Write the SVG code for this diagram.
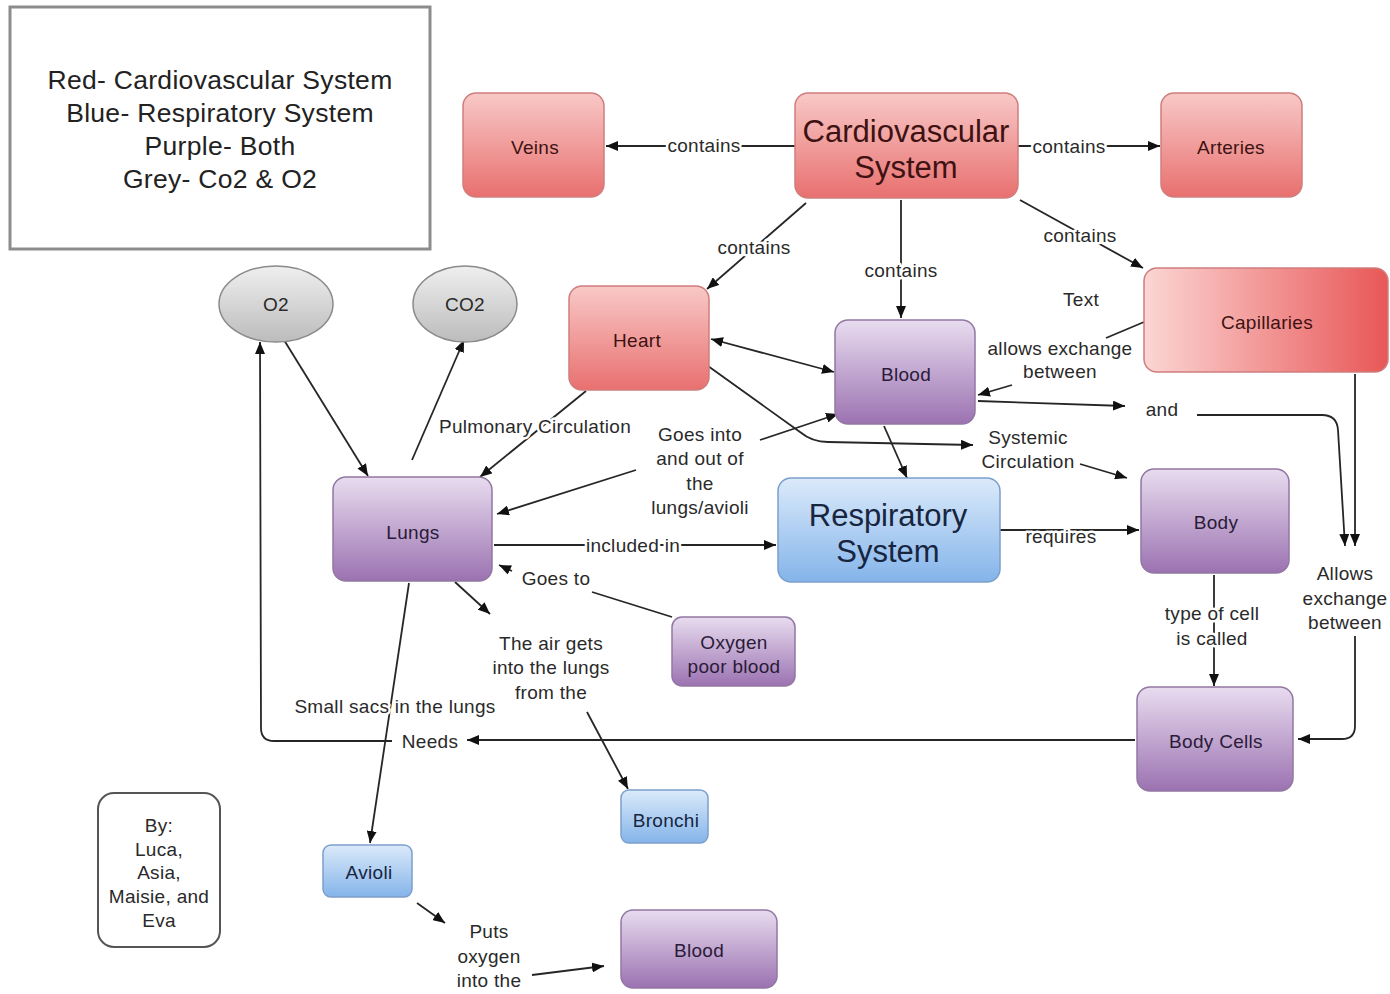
<svg xmlns="http://www.w3.org/2000/svg" width="1390" height="994" viewBox="0 0 1390 994">
<style>
text{font-family:"Liberation Sans",Arial,sans-serif;text-anchor:middle;dominant-baseline:central}
.lbl{font-size:19px;fill:#2a2a2a;letter-spacing:0.3px;stroke:#fff;stroke-width:5px;paint-order:stroke;stroke-linejoin:round}
.nt{font-size:19px;letter-spacing:0.3px}
.big{font-size:31px}
.leg{font-size:26.5px;fill:#222;letter-spacing:0.3px}
.red{fill:url(#gRed);stroke:#cf7d7d;stroke-width:1.5}
.pur{fill:url(#gPur);stroke:#9277a3;stroke-width:1.5}
.blu{fill:url(#gBlu);stroke:#7d9fcc;stroke-width:1.5}
.gry{fill:url(#gGry);stroke:#8a8a8a;stroke-width:1.5}
.tr{fill:#3e1212}
.tp{fill:#2a1b38}
.tb{fill:#17253f}
.c{fill:none;stroke:#262626;stroke-width:1.8}
.ar{marker-end:url(#ah)}
</style>
<defs>
<linearGradient id="gRed" x1="0" y1="0" x2="0" y2="1"><stop offset="0" stop-color="#f8c9c7"/><stop offset="1" stop-color="#e8706f"/></linearGradient>
<linearGradient id="gCap" x1="0" y1="0" x2="1" y2="0"><stop offset="0" stop-color="#fbd6d4"/><stop offset="1" stop-color="#e85757"/></linearGradient>
<linearGradient id="gPur" x1="0" y1="0" x2="0" y2="1"><stop offset="0" stop-color="#e8dcef"/><stop offset="1" stop-color="#9b72b1"/></linearGradient>
<linearGradient id="gBlu" x1="0" y1="0" x2="0" y2="1"><stop offset="0" stop-color="#dbeafa"/><stop offset="1" stop-color="#84b4ea"/></linearGradient>
<linearGradient id="gGry" x1="0" y1="0" x2="0" y2="1"><stop offset="0" stop-color="#efefef"/><stop offset="1" stop-color="#bcbcbc"/></linearGradient>
<marker id="ah" viewBox="0 0 12 10" refX="12" refY="5" markerWidth="12" markerHeight="10" markerUnits="userSpaceOnUse" orient="auto-start-reverse"><path d="M0,0 L12,5 L0,10 z" fill="#111"/></marker>
</defs>
<rect width="1390" height="994" fill="#fff"/>

<g id="legend">
<rect x="10" y="7" width="420" height="242" fill="#fff" stroke="#8c8c8c" stroke-width="3"/>
<text class="leg" x="220" y="80">Red- Cardiovascular System</text>
<text class="leg" x="220" y="113">Blue- Respiratory System</text>
<text class="leg" x="220" y="146">Purple- Both</text>
<text class="leg" x="220" y="179">Grey- Co2 &amp; O2</text>
</g>

<g id="connectors">
<path class="c ar" d="M795,146 L606,146"/>
<path class="c ar" d="M1018,146 L1160,146"/>
<path class="c ar" d="M806,203 L707,289"/>
<path class="c ar" d="M901,200 L901,318"/>
<path class="c ar" d="M1020,200 L1143,268"/>
<path class="c" d="M1144,322 L1106,338"/>
<path class="c ar" d="M1012,385 L978,395"/>
<path class="c ar" d="M978,401 L1125,406"/>
<path class="c ar" d="M1197,415 L1322,415 Q1337,415 1338,430 L1345,546"/>
<path class="c ar" d="M1355,374 L1355,546"/>
<path class="c ar" d="M1355,636 L1355,726 Q1355,739 1342,739 L1298,739"/>
<path class="c ar" marker-start="url(#ah)" d="M711,339 L834,372"/>
<path class="c ar" d="M708,366 L800,432 Q812,442 828,442 L973,445"/>
<path class="c ar" d="M1080,464 L1127,478"/>
<path class="c ar" d="M586,391 L480,477"/>
<path class="c ar" d="M884,426 L907,478"/>
<path class="c ar" d="M760,440 L838,414"/>
<path class="c ar" d="M636,470 L497,514"/>
<path class="c ar" d="M494,545 L776,545"/>
<path class="c" d="M672,617 L592,592"/>
<path class="c ar" d="M512,571 L499,565"/>
<path class="c ar" d="M455,582 L490,614"/>
<path class="c ar" d="M587,712 L628,789"/>
<path class="c ar" d="M409,583 L370,843"/>
<path class="c ar" d="M417,903 L445,923"/>
<path class="c ar" d="M532,975 L604,966"/>
<path class="c ar" d="M1214,575 L1214,686"/>
<path class="c ar" d="M1135,740 L467,740"/>
<path class="c ar" d="M392,741 L274,741 Q261,741 261,728 L260,342"/>
<path class="c ar" d="M284,340 L368,476"/>
<path class="c ar" d="M412,460 L464,340"/>
<path class="c ar" d="M1000,530 L1139,530"/>
</g>

<g id="labels">
<text class="lbl" x="704" y="145">contains</text>
<text class="lbl" x="1069" y="146">contains</text>
<text class="lbl" x="754" y="247">contains</text>
<text class="lbl" x="901" y="270">contains</text>
<text class="lbl" x="1080" y="235">contains</text>
<text class="lbl" x="1081" y="299">Text</text>
<text class="lbl" x="1060" y="348">allows exchange</text>
<text class="lbl" x="1060" y="371">between</text>
<text class="lbl" x="1162" y="409">and</text>
<text class="lbl" x="1345" y="573">Allows</text>
<text class="lbl" x="1345" y="598">exchange</text>
<text class="lbl" x="1345" y="622">between</text>
<text class="lbl" x="1028" y="437">Systemic</text>
<text class="lbl" x="1028" y="461">Circulation</text>
<text class="lbl" x="535" y="426">Pulmonary Circulation</text>
<text class="lbl" x="700" y="434">Goes into</text>
<text class="lbl" x="700" y="458">and out of</text>
<text class="lbl" x="700" y="483">the</text>
<text class="lbl" x="700" y="507">lungs/avioli</text>
<text class="lbl" x="633" y="545">included in</text>
<text class="lbl" x="556" y="578">Goes to</text>
<text class="lbl" x="551" y="643">The air gets</text>
<text class="lbl" x="551" y="667">into the lungs</text>
<text class="lbl" x="551" y="692">from the</text>
<text class="lbl" x="395" y="706">Small sacs in the lungs</text>
<text class="lbl" x="430" y="741">Needs</text>
<text class="lbl" x="489" y="931">Puts</text>
<text class="lbl" x="489" y="956">oxygen</text>
<text class="lbl" x="489" y="980">into the</text>
<text class="lbl" x="1212" y="613">type of cell</text>
<text class="lbl" x="1212" y="638">is called</text>
<text class="lbl" x="1061" y="536">requires</text>
</g>

<g id="veins"><rect class="red" x="463" y="93" width="141" height="104" rx="13"/><text class="nt tr" x="535" y="147">Veins</text></g>
<g id="cardiovascular"><rect class="red" x="795" y="93" width="223" height="105" rx="13"/><text class="big tr" x="906" y="131">Cardiovascular</text><text class="big tr" x="906" y="167">System</text></g>
<g id="arteries"><rect class="red" x="1161" y="93" width="141" height="104" rx="13"/><text class="nt tr" x="1231" y="147">Arteries</text></g>
<g id="capillaries"><rect x="1144" y="268" width="244" height="104" rx="13" fill="url(#gCap)" stroke="#cf7d7d" stroke-width="1.5"/><text class="nt tr" x="1267" y="322">Capillaries</text></g>
<g id="heart"><rect class="red" x="569" y="286" width="140" height="104" rx="13"/><text class="nt tr" x="637" y="340">Heart</text></g>
<g id="blood-top"><rect class="pur" x="835" y="320" width="140" height="104" rx="13"/><text class="nt tp" x="906" y="374">Blood</text></g>
<g id="o2"><ellipse class="gry" cx="276" cy="304" rx="57" ry="38"/><text class="nt" fill="#2a2a2a" x="276" y="304">O2</text></g>
<g id="co2"><ellipse class="gry" cx="465" cy="304" rx="52" ry="38"/><text class="nt" fill="#2a2a2a" x="465" y="304">CO2</text></g>
<g id="lungs"><rect class="pur" x="333" y="477" width="159" height="104" rx="13"/><text class="nt tp" x="413" y="532">Lungs</text></g>
<g id="respiratory"><rect class="blu" x="778" y="478" width="222" height="104" rx="13"/><text class="big tb" x="888" y="515">Respiratory</text><text class="big tb" x="888" y="551">System</text></g>
<g id="body"><rect class="pur" x="1141" y="469" width="148" height="104" rx="13"/><text class="nt tp" x="1216" y="522">Body</text></g>
<g id="body-cells"><rect class="pur" x="1137" y="687" width="156" height="104" rx="13"/><text class="nt tp" x="1216" y="741">Body Cells</text></g>
<g id="oxygen-poor-blood"><rect class="pur" x="672" y="617" width="123" height="69" rx="10"/><text class="nt tp" x="734" y="642">Oxygen</text><text class="nt tp" x="734" y="666">poor blood</text></g>
<g id="bronchi"><rect class="blu" x="621" y="790" width="87" height="53" rx="8"/><text class="nt tb" x="666" y="820">Bronchi</text></g>
<g id="avioli"><rect class="blu" x="323" y="845" width="89" height="52" rx="8"/><text class="nt tb" x="369" y="872">Avioli</text></g>
<g id="blood-bottom"><rect class="pur" x="621" y="910" width="156" height="78" rx="12"/><text class="nt tp" x="699" y="950">Blood</text></g>
<g id="authors"><rect x="98" y="793" width="122" height="154" rx="16" fill="#fff" stroke="#555" stroke-width="2"/>
<text class="nt" fill="#2a2a2a" x="159" y="825">By:</text><text class="nt" fill="#2a2a2a" x="159" y="849">Luca,</text><text class="nt" fill="#2a2a2a" x="159" y="872">Asia,</text><text class="nt" fill="#2a2a2a" x="159" y="896">Maisie, and</text><text class="nt" fill="#2a2a2a" x="159" y="920">Eva</text></g>
</svg>
